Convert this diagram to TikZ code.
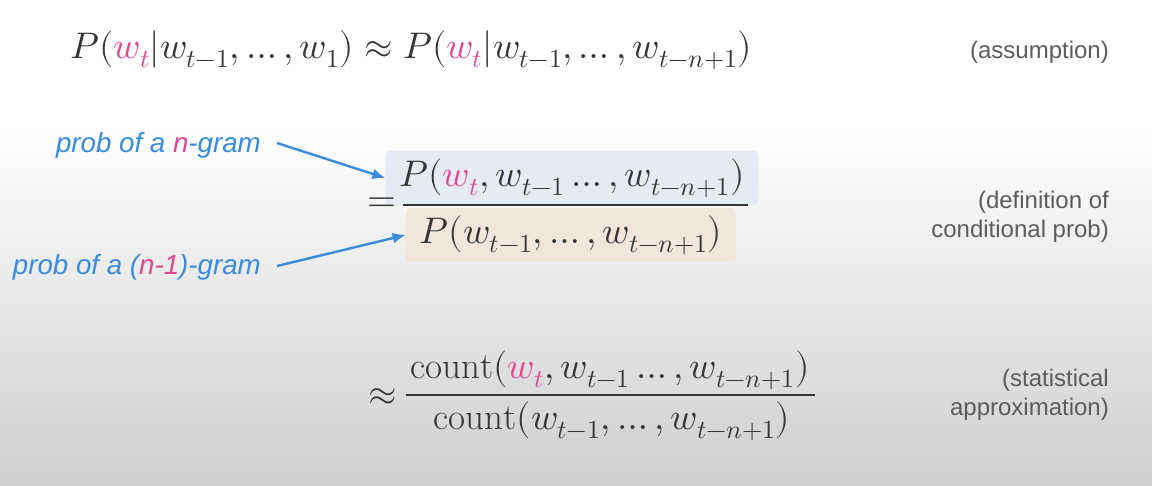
\documentclass[tikz,border=0pt]{standalone}
\usepackage{amsmath,amssymb}
\usepackage{fontspec}
\usepackage{unicode-math}
\setmathfont{Latin Modern Math}
\usepackage{tikz}
\usetikzlibrary{arrows.meta}
\newfontfamily\notefont{Liberation Sans}
\definecolor{wpink}{HTML}{E0478F}
\definecolor{noteblue}{HTML}{3A8BDD}
\definecolor{notegray}{HTML}{5C5C5C}
\definecolor{mathgray}{HTML}{363636}
\definecolor{numfill}{HTML}{E6EAF2}
\definecolor{denfill}{HTML}{F2E6DB}
\definecolor{bgbottom}{HTML}{CFCFCF}
\newcommand{\wt}{\textcolor{wpink}{w_t}}

\begin{document}
\begin{tikzpicture}[x=1pt,y=-1pt,
    formula/.style={text=mathgray,font=\fontsize{37}{44}\selectfont,inner sep=0pt},
    bluenote/.style={text=noteblue,font=\notefont\itshape\fontsize{27.7}{32}\selectfont,inner sep=0pt},
    graynote/.style={text=notegray,font=\notefont\fontsize{24}{29}\selectfont,align=right,inner sep=0pt},
    hilite/.style={formula,rounded corners=6pt,inner xsep=14pt,minimum height=55pt},
    pointer/.style={draw=noteblue,line width=2.4pt,-{Latex[length=13pt,width=11pt]}},
    fracbar/.style={draw=mathgray,line width=1.8pt}]
    \useasboundingbox (0,0) rectangle (1152,485);
    \fill[white] (0,0) rectangle (1152,125);
    \shade[top color=white,bottom color=bgbottom] (0,125) rectangle (1152,485);

    \node[formula,anchor=west] (assume) at (70,50)
      {$P(\wt|w_{t-1},\ldots,w_1)\approx P(\wt|w_{t-1},\ldots,w_{t-n+1})$};
    \node[graynote,anchor=east] (assumenote) at (1109,52) {(assumption)};

    \node[hilite,fill=numfill] (num) at (572,178)
      {$P(\wt,w_{t-1}\ldots,w_{t-n+1})$};
    \node[hilite,fill=denfill] (den) at (571,235)
      {$P(w_{t-1},\ldots,w_{t-n+1})$};
    \coordinate (barl) at (403,205);
    \coordinate (barr) at (748,205);
    \draw[fracbar] (barl) -- (barr);
    \node[formula,anchor=east] (eq) at (396,205) {$=$};
    \node[graynote,anchor=east] (defnote) at (1109,217) {(definition of\\conditional prob)};

    \node[bluenote,anchor=east] (ngram) at (261,145)
      {prob of a \textcolor{wpink}{n}-gram};
    \node[bluenote,anchor=east] (nminus) at (261,267)
      {prob of a (\textcolor{wpink}{n-1})-gram};
    \draw[pointer] (ngram.east) ++(16,-2) coordinate (ngramtail) -- (num.west);
    \draw[pointer] (nminus.east) ++(16,-1) coordinate (nminustail) -- (den.west);

    \node[formula] (cnum) at (610,370)
      {$\mathrm{count}(\wt,w_{t-1}\ldots,w_{t-n+1})$};
    \node[formula] (cden) at (612,421)
      {$\mathrm{count}(w_{t-1},\ldots,w_{t-n+1})$};
    \coordinate (cbarl) at (406,395);
    \coordinate (cbarr) at (815,395);
    \draw[fracbar] (cbarl) -- (cbarr);
    \node[formula,anchor=east] (approx) at (397,397) {$\approx$};
    \node[graynote,anchor=east] (statnote) at (1109,395) {(statistical\\approximation)};
\end{tikzpicture}
\end{document}
